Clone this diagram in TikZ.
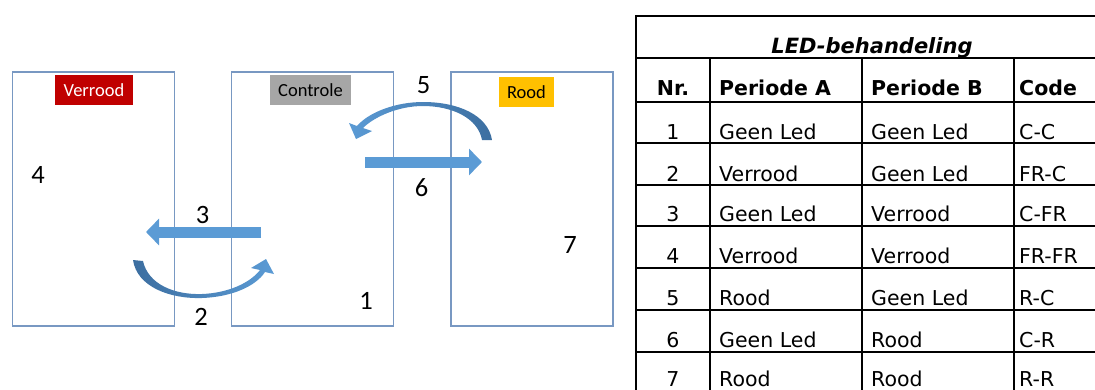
\documentclass[tikz,border=0pt]{standalone}
\usepackage{fontspec}
\setmainfont{Carlito}
\newfontfamily\tabelfont{DejaVu Sans}
\usetikzlibrary{arrows.meta}

\definecolor{kaderlijn}{RGB}{120,152,194}
\definecolor{pijlblauw}{RGB}{91,155,213}
\definecolor{pijldonker}{RGB}{60,110,160}
\definecolor{verroodrood}{RGB}{192,0,0}
\definecolor{controlegrijs}{RGB}{166,166,166}
\definecolor{roodgeel}{RGB}{255,192,0}

\begin{document}
\begin{tikzpicture}[x=1pt, y=-1pt,
  kamer/.style={draw=kaderlijn, line width=1.2pt, minimum width=162pt, minimum height=254pt, inner sep=0pt},
  etiket/.style={minimum height=30pt, inner sep=0pt, font=\fontsize{18.5}{21}\selectfont},
  nummer/.style={inner sep=0pt, font=\fontsize{26.5}{30}\selectfont},
  pijl/.style={line width=11pt, pijlblauw, -{Triangle[length=13pt, width=26pt]}},
  cel/.style={inner sep=0pt, anchor=base west, font=\tabelfont\fontsize{20.5}{24}\selectfont},
  kop/.style={cel, font=\tabelfont\bfseries\fontsize{20.5}{24}\selectfont},
  nr/.style={cel, anchor=base}]

\useasboundingbox (0,0) rectangle (1095,389);

% Three rooms with their labels
\node[kamer] (verrood) at (93.5,199) {};
\node[kamer] (controle) at (312.5,199) {};
\node[kamer] (rood) at (532,199) {};

\node[etiket, fill=verroodrood, text=white, minimum width=78pt] (lverrood) at (94,90) {Verrood};
\node[etiket, fill=controlegrijs, minimum width=81pt] (lcontrole) at (310.5,90) {Controle};
\node[etiket, fill=roodgeel, minimum width=55pt] (lrood) at (526.5,92) {Rood};

% Treatment numbers
\node[nummer] (n1) at (366,300.5) {1};
\node[nummer] (n2) at (201,316.5) {2};
\node[nummer] (n3) at (202.5,215) {3};
\node[nummer] (n4) at (38,174.5) {4};
\node[nummer] (n5) at (423.5,85) {5};
\node[nummer] (n6) at (421.5,187.5) {6};
\node[nummer] (n7) at (570,245) {7};

% Straight arrows
\coordinate (p3van) at (261,232);
\coordinate (p3naar) at (146,232);
\coordinate (p6van) at (365,162);
\coordinate (p6naar) at (482,162);
\draw[pijl] (p3van) -- (p3naar);
\draw[pijl] (p6van) -- (p6naar);

% Curved arrows
\shade[left color=pijldonker, middle color=pijlblauw, right color=pijlblauw]
  (133,260) .. controls (137,287) and (170,299) .. (202,298)
  .. controls (232,297) and (256,286) .. (265,272)
  -- (274,274) -- (266,259) -- (251,268) -- (260,270)
  .. controls (250,283) and (228,293) .. (202,294)
  .. controls (174,295) and (148,284) .. (143,261) -- cycle;
\shade[left color=pijlblauw, middle color=pijlblauw, right color=pijldonker]
  (492,140) .. controls (488,115) and (458,102) .. (423,102)
  .. controls (396,102) and (369,112) .. (357,126)
  -- (349,123) -- (356,139) -- (372,131) -- (363,128)
  .. controls (374,117) and (398,106) .. (423,106)
  .. controls (452,106) and (478,118) .. (482,140) -- cycle;

% Table lines
\draw[line width=2pt] (636,16) -- (1110,16);
\draw[line width=2pt] (636,15) -- (636,400);
\draw[line width=1.6pt] (636,58) -- (1110,58);
\draw[line width=2pt] (636,102) -- (1110,102);
\draw[line width=1.6pt] (636,143) -- (1110,143);
\draw[line width=1.6pt] (636,185) -- (1110,185);
\draw[line width=1.6pt] (636,226) -- (1110,226);
\draw[line width=1.6pt] (636,268) -- (1110,268);
\draw[line width=1.6pt] (636,310) -- (1110,310);
\draw[line width=1.6pt] (636,352) -- (1110,352);
\draw[line width=1.6pt] (710,58) -- (710,400);
\draw[line width=1.6pt] (862,58) -- (862,400);
\draw[line width=1.6pt] (1014,58) -- (1014,400);

% Table text
\node[kop, anchor=base, font=\tabelfont\bfseries\itshape\fontsize{21}{24}\selectfont] (titel) at (872,53) {LED-behandeling};
\node[kop, anchor=base] (hnr) at (673,95) {Nr.};
\node[kop] (hpa) at (719,95) {Periode A};
\node[kop] (hpb) at (871,95) {Periode B};
\node[kop] (hcode) at (1019,95) {Code};

\node[nr] (r1) at (673,139) {1}; \node[cel] (r1a) at (719,139) {Geen Led}; \node[cel] (r1b) at (871,139) {Geen Led}; \node[cel] (r1c) at (1019,139) {C-C};
\node[nr] (r2) at (673,181) {2}; \node[cel] (r2a) at (719,181) {Verrood}; \node[cel] (r2b) at (871,181) {Geen Led}; \node[cel] (r2c) at (1019,181) {FR-C};
\node[nr] (r3) at (673,221) {3}; \node[cel] (r3a) at (719,221) {Geen Led}; \node[cel] (r3b) at (871,221) {Verrood}; \node[cel] (r3c) at (1019,221) {C-FR};
\node[nr] (r4) at (673,263) {4}; \node[cel] (r4a) at (719,263) {Verrood}; \node[cel] (r4b) at (871,263) {Verrood}; \node[cel] (r4c) at (1019,263) {FR-FR};
\node[nr] (r5) at (673,305) {5}; \node[cel] (r5a) at (719,305) {Rood}; \node[cel] (r5b) at (871,305) {Geen Led}; \node[cel] (r5c) at (1019,305) {R-C};
\node[nr] (r6) at (673,347) {6}; \node[cel] (r6a) at (719,347) {Geen Led}; \node[cel] (r6b) at (871,347) {Rood}; \node[cel] (r6c) at (1019,347) {C-R};
\node[nr] (r7) at (673,386) {7}; \node[cel] (r7a) at (719,386) {Rood}; \node[cel] (r7b) at (871,386) {Rood}; \node[cel] (r7c) at (1019,386) {R-R};

\end{tikzpicture}
\end{document}
